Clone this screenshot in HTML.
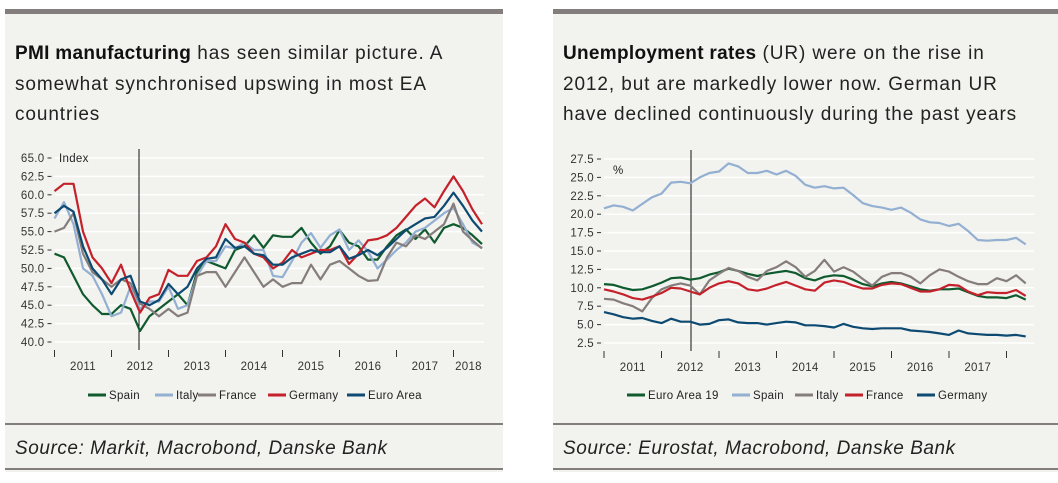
<!DOCTYPE html>
<html><head><meta charset="utf-8"><style>
body{margin:0;width:1058px;height:483px;background:#fff;position:relative;overflow:hidden;font-family:"Liberation Sans",sans-serif}
.panel{position:absolute;top:9px;height:463px;background:#f2f2ee;border-top:5px solid #847d7d;box-sizing:border-box}
.ttl{position:absolute;left:10px;top:25px;font-size:19px;letter-spacing:0.9px;line-height:30.5px;color:#222;width:560px;white-space:nowrap}
.ttl b{font-weight:bold;color:#111;letter-spacing:0.3px}
.src{position:absolute;left:0;right:0;top:409px;border-top:2px solid #847d7d;border-bottom:2px solid #847d7d;height:47px;box-sizing:border-box;padding:13px 0 0 10px;font-style:italic;font-size:19px;letter-spacing:0.55px;color:#222}
svg{position:absolute;left:0;top:0}
svg text{letter-spacing:0.3px}
</style></head><body>
<div class="panel" style="left:5px;width:498px">
<div class="ttl"><b>PMI manufacturing</b> has seen similar picture. A<br>somewhat synchronised upswing in most EA<br>countries</div>
<div class="src">Source: Markit, Macrobond, Danske Bank</div>
</div>
<div class="panel" style="left:553px;width:505px">
<div class="ttl"><b>Unemployment rates</b> (UR) were on the rise in<br>2012, but are markedly lower now. German UR<br>have declined continuously during the past years</div>
<div class="src">Source: Eurostat, Macrobond, Danske Bank</div>
</div>
<svg id="chart" width="1058" height="483"></svg>
<script>
// PMI data (every 2 months from Jan 2011)
const pmiSpain=[52,51.5,49,46.5,45,43.8,43.8,45,44.5,41.5,43.5,44.5,45.5,46.5,45,49.5,51,50.5,50,52.5,53,54.5,52.8,54.5,54.3,54.3,55.5,53.5,52,53,55.2,53.5,53,51.2,51.2,53,54.5,55.3,54,55.3,53.5,55.5,56,55.5,54.5,53.3];
const pmiItaly=[56.8,59,56,50,49,46.5,43.5,44,47.5,44.5,45.5,45.5,47.5,44.5,45,49,51,51,53,52.7,53.5,52.5,52.5,49,48.8,51,53.5,54.8,52.8,54.5,55.3,52.5,53.8,52.3,50,51.2,52.5,53.5,55,55.5,56.5,57.5,58.2,56,53.5,52.8];
const pmiFrance=[55,55.5,57.5,52,49.5,48.5,47.5,48.5,48,45.2,44.5,43.5,44.5,43.5,44,49,49.5,49.5,47.5,49.5,51.5,49.5,47.5,48.5,47.5,48,48,50.5,48.5,50.5,51,50,49,48.3,48.4,51.5,53.5,53,54.5,54,55,56,58.8,55,53.8,52.7];
const pmiGermany=[60.5,61.5,61.5,55,51.5,50,48,50.5,47,44,46,46.5,49.8,49,49,51,51.5,53,56,54,53.5,52,51.5,50,50.8,52.5,51.5,52,52.5,52.5,53,50.6,52,53.8,54,54.5,55.5,57,58.5,59.5,58.3,60.5,62.5,60.5,58,56];
const pmiEuro=[57.5,58.5,57.7,53,50,48.5,46.5,48.5,49,45.5,45,45.7,47.9,46.5,47.5,50,51.3,51.5,54,52.8,53,52,51.8,50.5,50.5,51.5,52,52.5,52.2,52.2,53,51.3,51.8,52.5,51.8,52.8,54,55.2,56,56.8,57,58.5,60.3,58.5,56.5,55];
const pmiTicks=[40,42.5,45,47.5,50,52.5,55,57.5,60,62.5,65];
const years=["2011","2012","2013","2014","2015","2016","2017","2018"];
// Unemployment data (every 2 months from Jan 2011)
const urEA=[10.5,10.4,10,9.7,9.8,10.2,10.7,11.3,11.4,11.1,11.3,11.8,12.1,12.6,12.3,11.9,11.6,11.9,12.1,12.3,12,11.3,11,11.5,11.7,11.6,11.1,10.5,10.2,10.6,10.8,10.6,10.2,9.8,9.6,9.8,9.8,9.9,9.4,8.9,8.7,8.7,8.6,9,8.4];
const urSpain=[20.8,21.2,21,20.5,21.4,22.3,22.8,24.3,24.4,24.2,25,25.6,25.8,26.9,26.5,25.6,25.6,25.9,25.4,25.9,25.2,24,23.6,23.8,23.5,23.6,22.6,21.5,21.1,20.9,20.6,20.9,20.2,19.3,18.9,18.8,18.4,18.7,17.7,16.5,16.4,16.5,16.5,16.8,15.9];
const urItaly=[8.5,8.4,7.9,7.5,6.8,8.6,9.8,10.3,10.6,10.3,9.1,11,11.9,12.7,12.3,11.5,11,12.3,12.8,13.6,12.8,11.5,12.3,13.8,12.2,12.8,12.2,11.2,10.3,11.5,12,12,11.5,10.6,11.7,12.5,12.2,11.5,10.9,10.5,10.5,11.3,10.9,11.7,10.6];
const urFrance=[9.8,9.5,9.1,8.6,8.4,8.8,9.3,10,9.9,9.5,9.1,10,10.6,10.9,10.6,9.8,9.6,9.9,10.4,10.8,10.3,9.8,9.6,10.7,11,10.8,10.3,9.9,9.9,10.4,10.6,10.5,10,9.5,9.5,9.8,10.4,10.3,9.5,9,9.4,9.3,9.3,9.7,8.9];
const urGermany=[6.7,6.4,6,5.8,5.9,5.5,5.2,5.8,5.4,5.4,5,5.1,5.6,5.7,5.3,5.2,5.2,5,5.2,5.4,5.3,4.9,4.9,4.8,4.6,5.1,4.7,4.5,4.4,4.5,4.5,4.5,4.2,4.1,4,3.8,3.6,4.2,3.8,3.7,3.6,3.6,3.5,3.6,3.4];
const urTicks=[2.5,5,7.5,10,12.5,15,17.5,20,22.5,25,27.5];

const NS="http://www.w3.org/2000/svg";
const svg=document.getElementById('chart');
function mk(tag,attrs,parent){const e=document.createElementNS(NS,tag);for(const k in attrs)e.setAttribute(k,attrs[k]);(parent||svg).appendChild(e);return e;}
const C={green:"#0f5a2e",lblue:"#93afd2",gray:"#857d7c",red:"#c4212b",navy:"#0d4a72"};

function drawChart(o){
  const g=mk('g',{});
  
  
  const yS=v=>o.y0-(v-o.vmin)/(o.vmax-o.vmin)*(o.y0-o.y1);
  const xS=i=>o.x0+i*o.mpx;
  o.ticks.forEach(t=>{
    const l=mk('line',{x1:o.x0,x2:o.gx2,y1:yS(t),y2:yS(t),stroke:"#fff","stroke-width":1.5},g);
    
    
    const tk=mk('line',{x1:o.x0-7,x2:o.x0-3,y1:yS(t),y2:yS(t),stroke:"#333","stroke-width":1},g);
    
    
    const tx=mk('text',{x:o.x0-10,y:yS(t)+4,"text-anchor":"end","font-size":11.5,fill:"#333"},g);
    tx.textContent=t.toFixed(1);
    
    
  });
  const u=mk('text',{x:o.unitX,y:o.unitY,"font-size":11.5,fill:"#222"},g);u.textContent=o.unit;
  
  
  for(let k=0;k<o.nTicks;k++){
    const x=xS(k*12);
    const tk=mk('line',{x1:x,x2:x,y1:o.y0+8,y2:o.y0+15,stroke:"#333","stroke-width":1},g);
    
    
  }
  o.yearLabels.forEach((yr,k)=>{
    const x=k<o.nTicks-1?xS(k*12+6):xS(k*12)+15;
    const tx=mk('text',{x:x,y:o.y0+28,"text-anchor":"middle","font-size":11.5,fill:"#333"},g);
    tx.textContent=yr;
    
    
  });
  const vl=mk('line',{x1:o.vx,x2:o.vx,y1:o.y1-9,y2:o.y0+8,stroke:"#111","stroke-width":1},g);
  
  
  o.series.forEach(s=>{
    const d=s.data.map((v,i)=>(i?'L':'M')+xS(i*2).toFixed(1)+','+yS(v).toFixed(1)).join('');
    const p=mk('path',{d:d,fill:"none",stroke:s.color,"stroke-width":2.2,"stroke-linejoin":"round"},g);
    
    
  });
  o.series.forEach(s=>{
    const lg=mk('g',{},g);
    
    
    mk('line',{x1:s.lx,x2:s.lx+18,y1:o.ly,y2:o.ly,stroke:s.color,"stroke-width":3},lg);
    const t=mk('text',{x:s.lx+21,y:o.ly+4,"font-size":11.5,fill:"#222"},lg);t.textContent=s.label;
  });
}
drawChart({name:'pmi-chart',x0:54.5,gx2:484,mpx:57/12,y0:342,y1:158,vmin:40,vmax:65,ticks:pmiTicks,unit:'Index',unitX:59,unitY:162,
  nTicks:8,yearLabels:years,vx:139,ly:395,
  series:[{key:'spain',label:'Spain',data:pmiSpain,color:C.green,lx:88},
          {key:'italy',label:'Italy',data:pmiItaly,color:C.lblue,lx:155},
          {key:'france',label:'France',data:pmiFrance,color:C.gray,lx:198},
          {key:'germany',label:'Germany',data:pmiGermany,color:C.red,lx:268},
          {key:'euro-area',label:'Euro Area',data:pmiEuro,color:C.navy,lx:347}]});
drawChart({name:'ur-chart',x0:604,gx2:1034,mpx:57.5/12,y0:343,y1:159,vmin:2.5,vmax:27.5,ticks:urTicks,unit:'%',unitX:613,unitY:174,
  nTicks:8,yearLabels:years.slice(0,7),vx:691,ly:395,
  series:[{key:'euro-area-19',label:'Euro Area 19',data:urEA,color:C.green,lx:627},
          {key:'spain',label:'Spain',data:urSpain,color:C.lblue,lx:732},
          {key:'italy',label:'Italy',data:urItaly,color:C.gray,lx:795},
          {key:'france',label:'France',data:urFrance,color:C.red,lx:845},
          {key:'germany',label:'Germany',data:urGermany,color:C.navy,lx:917}]});
</script>
</body></html>
